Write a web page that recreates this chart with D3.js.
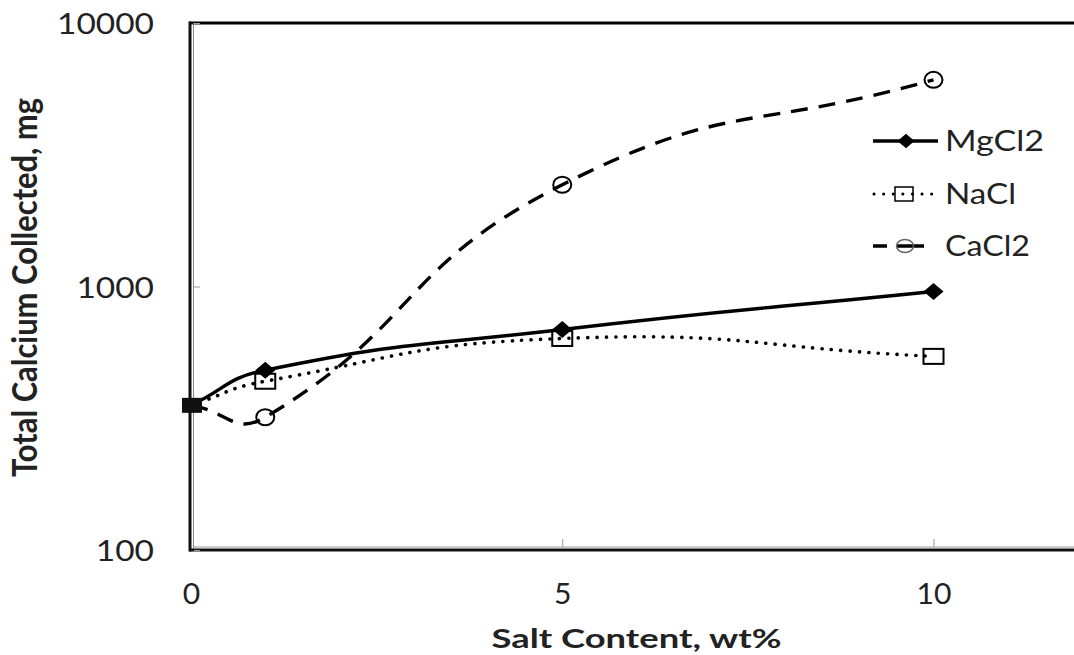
<!DOCTYPE html>
<html lang="en">
<head>
<meta charset="UTF-8">
<title>Total Calcium Collected vs Salt Content</title>
<script src="https://d3js.org/d3.v7.min.js"></script>
<style>
    body { margin: 0; background: #fff; }
    svg { display: block; font-family: Lato, "Open Sans", sans-serif; }
</style>
</head>
<body>
<svg width="1074" height="655"></svg>
<script>
    // data
    const saltContent = [0, 1, 5, 10];
    const mgcl2 = [354, 481, 687, 957];
    const nacl = [354, 437, 635, 543];
    const cacl2 = [354, 319, 2433, 6085];
    const yTicks = [100, 1000, 10000];
    const xTicks = [0, 5, 10];

    const series = [
        { name: "MgCl2", values: mgcl2, style: "solid", marker: "diamond" },
        { name: "NaCl", values: nacl, style: "dot", marker: "square" },
        { name: "CaCl2", values: cacl2, style: "dash", marker: "circle" }
    ];

    const svg = d3.select("svg");
    const plotLeft = 191, plotRight = 1082, plotTop = 23, plotBottom = 550;
    const stretch = 1.3; // the source picture is wider than it is tall

    const x = d3.scaleLinear().domain([0, 12]).range([plotLeft, plotRight]);
    const y = d3.scaleLog().domain([100, 10000]).range([plotBottom, plotTop]);

    // frame
    svg.append("line").attr("x1", plotLeft - 2).attr("x2", 1074).attr("y1", plotTop).attr("y2", plotTop)
        .attr("stroke", "#000").attr("stroke-width", 3);
    svg.append("line").attr("x1", plotLeft - 1).attr("x2", plotLeft - 1).attr("y1", plotTop - 1.5).attr("y2", plotBottom + 1.5)
        .attr("stroke", "#111").attr("stroke-width", 3);
    svg.append("line").attr("x1", plotLeft + 2.5).attr("x2", plotLeft + 2.5).attr("y1", plotTop).attr("y2", plotBottom)
        .attr("stroke", "#888").attr("stroke-width", 1);
    svg.append("line").attr("x1", plotLeft - 2).attr("x2", 1074).attr("y1", plotBottom).attr("y2", plotBottom)
        .attr("stroke", "#111").attr("stroke-width", 3);
    svg.append("line").attr("x1", plotLeft + 2).attr("x2", 1074).attr("y1", plotBottom - 3).attr("y2", plotBottom - 3)
        .attr("stroke", "#999").attr("stroke-width", 1);

    const digitWidth = 19.4;

    // y axis
    const yAxis = svg.append("g").attr("transform", `translate(${plotLeft + 3},0)`)
        .call(d3.axisRight(y).tickValues(yTicks).tickSize(6).tickFormat(d3.format("d")));
    yAxis.select(".domain").remove();
    yAxis.selectAll(".tick line").attr("stroke", "#999");
    yAxis.selectAll(".tick text")
        .attr("x", -40).attr("y", 10.5).attr("dy", 0).attr("text-anchor", "end")
        .attr("font-size", 29).attr("font-family", "Lato, sans-serif").attr("fill", "#222")
        .attr("textLength", d => String(d).length * digitWidth).attr("lengthAdjust", "spacingAndGlyphs");

    // x axis
    const xAxis = svg.append("g").attr("transform", `translate(0,${plotBottom - 3})`)
        .call(d3.axisTop(x).tickValues(xTicks).tickSize(8));
    xAxis.select(".domain").remove();
    xAxis.selectAll(".tick line").attr("stroke", "#999").filter(d => d === 0).remove();
    xAxis.selectAll(".tick text")
        .attr("y", 57).attr("dy", 0).attr("text-anchor", "middle")
        .attr("font-size", 29).attr("font-family", "Lato, sans-serif").attr("fill", "#222")
        .attr("textLength", d => String(d).length * digitWidth * 0.9).attr("lengthAdjust", "spacingAndGlyphs");

    // axis titles
    svg.append("text").attr("x", (plotLeft + plotRight) / 2).attr("y", 648).attr("text-anchor", "middle")
        .attr("font-size", 26).attr("font-weight", "bold").attr("fill", "#222")
        .attr("textLength", 290).attr("lengthAdjust", "spacingAndGlyphs")
        .text("Salt Content, wt%");
    svg.append("text")
        .attr("transform", `translate(37,${(plotTop + plotBottom) / 2 + 1}) scale(${stretch},1) rotate(-90)`)
        .attr("text-anchor", "middle")
        .attr("font-size", 27).attr("font-weight", "bold").attr("fill", "#222")
        .attr("textLength", 379).attr("lengthAdjust", "spacingAndGlyphs")
        .text("Total Calcium Collected, mg");

    // smoothing like the spreadsheet's "smoothed line" option
    function smoothCurve(context) {
        let pts = [];
        const dist = (a, b) => Math.hypot(b[0] - a[0], b[1] - a[1]);
        return {
            areaStart() {}, areaEnd() {},
            lineStart() { pts = []; },
            point(px, py) { pts.push([+px, +py]); },
            lineEnd() {
                const n = pts.length;
                if (!n) return;
                context.moveTo(pts[0][0], pts[0][1]);
                for (let i = 0; i < n - 1; i++) {
                    const p0 = pts[Math.max(i - 1, 0)], p1 = pts[i], p2 = pts[i + 1], p3 = pts[Math.min(i + 2, n - 1)];
                    const d01 = dist(p0, p1), d12 = dist(p1, p2), d23 = dist(p2, p3);
                    const f1 = 0.5 * d12 / (d01 + d12), f2 = 0.5 * d12 / (d12 + d23);
                    context.bezierCurveTo(
                        p1[0] + f1 * (p2[0] - p0[0]), p1[1] + f1 * (p2[1] - p0[1]),
                        p2[0] - f2 * (p3[0] - p1[0]), p2[1] - f2 * (p3[1] - p1[1]),
                        p2[0], p2[1]);
                }
            }
        };
    }

    const line = d3.line()
        .x((d, i) => x(saltContent[i]))
        .y(d => y(d))
        .curve(smoothCurve);

    function styleLine(sel, style) {
        sel.attr("fill", "none").attr("stroke", "#000");
        if (style === "dot") {
            sel.attr("stroke-width", 3.6).attr("stroke-linecap", "round").attr("stroke-dasharray", "0.1 9.3");
        } else if (style === "dash") {
            sel.attr("stroke-width", 3.4).attr("stroke-dasharray", "17 11");
        } else {
            sel.attr("stroke-width", 3.4);
        }
        return sel;
    }

    function drawMarker(g, type, cx, cy, k) {
        k = k || 1;
        if (type === "diamond") {
            const w = 10 * k, h = 8.5 * k;
            g.append("path").attr("d", `M${cx},${cy - h}L${cx + w},${cy}L${cx},${cy + h}L${cx - w},${cy}Z`)
                .attr("fill", "#000");
        } else if (type === "square") {
            g.append("rect").attr("x", cx - 10 * k).attr("y", cy - 7.5 * k).attr("width", 20 * k).attr("height", 15 * k)
                .attr("fill", "none").attr("stroke", "#000").attr("stroke-width", 2);
        } else {
            g.append("ellipse").attr("cx", cx).attr("cy", cy).attr("rx", 9 * k).attr("ry", 8 * k)
                .attr("fill", "none").attr("stroke", "#000").attr("stroke-width", 2);
        }
    }

    series.forEach(s => {
        styleLine(svg.append("path").datum(s.values).attr("d", line), s.style);
    });
    series.forEach(s => {
        const g = svg.append("g");
        s.values.forEach((v, i) => {
            if (saltContent[i] === 0) return;
            drawMarker(g, s.marker, x(saltContent[i]), y(v));
        });
    });
    // shared starting point, shown as a solid block as in the source
    svg.append("rect").attr("x", x(0) - 9).attr("y", y(mgcl2[0]) - 7.5).attr("width", 20).attr("height", 15)
        .attr("fill", "#111");

    // legend
    const legend = svg.append("g");
    const legendY = [141, 194, 246];
    const legendTextWidth = [99, 71, 85];
    series.forEach((s, i) => {
        const ly = legendY[i];
        const ln = legend.append("line").attr("y1", ly).attr("y2", ly);
        if (s.style === "dash") {
            ln.attr("x1", 873).attr("x2", 924);
            styleLine(ln, s.style).attr("stroke-dasharray", "14 10 30");
            legend.append("ellipse").attr("cx", 905).attr("cy", ly).attr("rx", 8.5).attr("ry", 6.5)
                .attr("fill", "none").attr("stroke", "#666").attr("stroke-width", 1.5);
        } else if (s.style === "dot") {
            ln.attr("x1", 874).attr("x2", 932);
            styleLine(ln, s.style).attr("stroke-width", 3).attr("stroke-dasharray", "0.1 9.5");
            legend.append("rect").attr("x", 895).attr("y", ly - 7).attr("width", 18).attr("height", 14)
                .attr("fill", "none").attr("stroke", "#000").attr("stroke-width", 1.5);
        } else {
            ln.attr("x1", 873).attr("x2", 938);
            styleLine(ln, s.style);
            drawMarker(legend, "diamond", 906, ly, 0.85);
        }
        legend.append("text").attr("x", 945).attr("y", ly + 10).attr("font-size", 28).attr("fill", "#222")
            .attr("textLength", legendTextWidth[i]).attr("lengthAdjust", "spacingAndGlyphs")
            .text(s.name);
    });
</script>
</body>
</html>
